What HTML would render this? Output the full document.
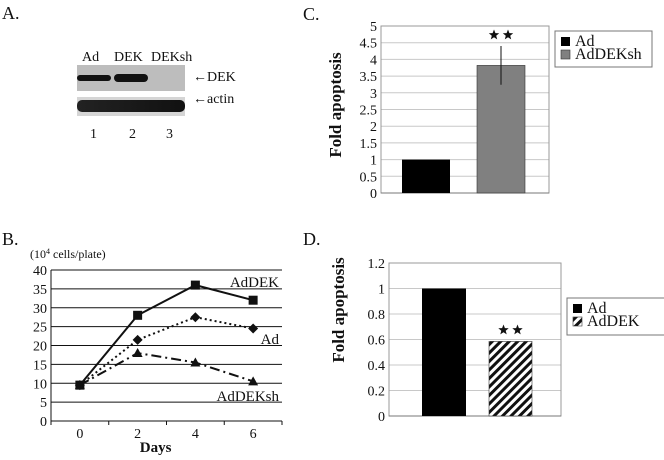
<!DOCTYPE html>
<html><head><meta charset="utf-8"><style>
body{margin:0;background:#fff;width:664px;height:455px;overflow:hidden;font-family:"Liberation Serif",serif;}
svg text{font-family:"Liberation Serif",serif;fill:#111;}
</style></head><body>
<svg id="fig" width="664" height="455" viewBox="0 0 664 455" xmlns="http://www.w3.org/2000/svg">
<defs>
<pattern id="hatch" width="6" height="6" patternUnits="userSpaceOnUse" patternTransform="rotate(45)">
<rect width="6" height="6" fill="#fff"/><rect width="3" height="6" fill="#111"/></pattern>
<linearGradient id="band" x1="0" x2="1"><stop offset="0" stop-color="#222"/><stop offset="1" stop-color="#111"/></linearGradient>
</defs>
<g>
<text x="2" y="19" font-size="18">A.</text>
<text x="82" y="61" font-size="14">Ad</text>
<text x="114" y="61" font-size="14">DEK</text>
<text x="151" y="61" font-size="14">DEKsh</text>
<rect x="77" y="65" width="108" height="26" fill="#bdbdbd"/>
<rect x="77" y="75" width="34" height="6" rx="3" fill="#111"/>
<rect x="114" y="74" width="34" height="8" rx="4" fill="#111"/>
<rect x="77" y="97" width="108" height="19" fill="#d5d5d5"/>
<rect x="77" y="100" width="108" height="12" rx="5" fill="url(#band)"/>
<text x="193" y="81" font-size="14">←DEK</text>
<text x="193" y="103" font-size="14">←actin</text>
<text x="90" y="138" font-size="14">1</text>
<text x="129" y="138" font-size="14">2</text>
<text x="166" y="138" font-size="14">3</text>
</g>
<text x="2" y="245" font-size="18">B.</text>
<text x="30" y="258" font-size="12">(10<tspan font-size="8" dy="-4">4</tspan><tspan dy="4"> cells/plate)</tspan></text>
<text x="303" y="20" font-size="18">C.</text>
<text x="303" y="245" font-size="18">D.</text>
<g id="gB"></g><g id="gC"></g><g id="gD"></g>
</svg>
<script>
const NS="http://www.w3.org/2000/svg";
function mk(p,t,a,txt){const e=document.createElementNS(NS,t);for(const k in a)e.setAttribute(k,a[k]);if(txt!==undefined)e.textContent=txt;p.appendChild(e);return e;}
// ---- Panel B data
const bDays=["0","2","4","6"];
const bAdDEK=[9.5,28,36,32];
const bAd=[9.5,21.5,27.5,24.5];
const bAdDEKsh=[9.5,18,15.5,10.5];
const bTicks=[0,5,10,15,20,25,30,35,40];
// ---- Panel C data
const cCats=["Ad","AdDEKsh"];
const cVals=[1,3.82];
const cErr=[0,0.58];
const cTicks=["0","0.5","1","1.5","2","2.5","3","3.5","4","4.5","5"];
// ---- Panel D data
const dCats=["Ad","AdDEK"];
const dVals=[1,0.585];
const dTicks=["0","0.2","0.4","0.6","0.8","1","1.2"];

function star(p,cx,cy,r,name){let pts=[];for(let i=0;i<10;i++){const a=-Math.PI/2+i*Math.PI/5;const rr=i%2?r*0.42:r;pts.push((cx+rr*Math.cos(a)).toFixed(1)+","+(cy+rr*Math.sin(a)).toFixed(1));}
const s=mk(p,"polygon",{points:pts.join(" "),fill:"#111"});

}

(function(){const g=document.getElementById("gB");
const L=51,R=282,T=270,B=421,max=40;
const y=v=>B-(v/max)*(B-T);const bw=(R-L)/bDays.length;const x=i=>L+bw*(i+0.5);
bTicks.forEach(t=>{if(t>0){const l=mk(g,"line",{x1:L,x2:R,y1:y(t),y2:y(t),stroke:"#111","stroke-width":1});

}
const tx=mk(g,"text",{x:L-4,y:y(t)+5,"font-size":14,"text-anchor":"end"},String(t));

});
const ax=mk(g,"path",{d:`M${L},${T}V${B}H${R}`,stroke:"#111",fill:"none"});


for(let i=0;i<=bDays.length;i++)mk(g,"line",{x1:L+bw*i,x2:L+bw*i,y1:B,y2:B+4,stroke:"#111"});
bDays.forEach((d,i)=>{const t=mk(g,"text",{x:x(i),y:B+17,"font-size":14,"text-anchor":"middle"},d);

});
const xt=mk(g,"text",{x:x(1)+18,y:452,"font-size":15,"font-weight":"bold","text-anchor":"middle"},"Days");


const series=[[bAdDEK,"none","sq","adDEK"],[bAd,"2,3","dia","ad"],[bAdDEKsh,"10,4,2,4","tri","adDEKsh"]];
series.forEach(([vals,dash,mark,nm])=>{
const pl=mk(g,"polyline",{points:vals.map((v,i)=>x(i)+","+y(v)).join(" "),fill:"none",stroke:"#111","stroke-width":2,"stroke-dasharray":dash});


vals.forEach((v,i)=>{let m;const cx=x(i),cy=y(v);
if(mark==="sq")m=mk(g,"rect",{x:cx-4.5,y:cy-4.5,width:9,height:9,fill:"#111"});
else if(mark==="dia")m=mk(g,"polygon",{points:`${cx},${cy-5} ${cx+5},${cy} ${cx},${cy+5} ${cx-5},${cy}`,fill:"#111"});
else m=mk(g,"polygon",{points:`${cx},${cy-5} ${cx+5},${cy+4} ${cx-5},${cy+4}`,fill:"#111"});

});});
[["AdDEK",287,"label-addek"],["Ad",344,"label-ad"],["AdDEKsh",401,"label-addeksh"]].forEach(([t,yy,n])=>{
const e=mk(g,"text",{x:279,y:yy,"font-size":15,"text-anchor":"end"},t);

});
})();

function barPanel(gid,cats,vals,ticks,max,L,R,T,B,bars,fills,legend,err,starY,titleX,titleY){
const g=document.getElementById(gid);const y=v=>B-(v/max)*(B-T);
ticks.forEach(t=>{const v=parseFloat(t);
if(v>0&&v<max){const l=mk(g,"line",{x1:L,x2:R,y1:y(v),y2:y(v),stroke:"#c8c8c8"});

}
const tx=mk(g,"text",{x:L-4,y:y(v)+5,"font-size":14,"text-anchor":"end"},t);

});
const fr=mk(g,"rect",{x:L,y:T,width:R-L,height:B-T,fill:"none",stroke:"#999"});


mk(g,"line",{x1:L,x2:R,y1:B,y2:B,stroke:"#777"});
vals.forEach((v,i)=>{const r=mk(g,"rect",{x:bars[i][0],y:y(v),width:bars[i][1]-bars[i][0],height:B-y(v),fill:fills[i],stroke:i?"#333":"none","stroke-width":0.6});


if(err[i]>0){const e=mk(g,"line",{x1:(bars[i][0]+bars[i][1])/2,x2:(bars[i][0]+bars[i][1])/2,y1:y(v-err[i]),y2:y(v+err[i]),stroke:"#111"});

}});
const sx=(bars[1][0]+bars[1][1])/2;const sy=starY;
star(g,sx-7,sy,5.5,'significance-star-1');star(g,sx+7,sy,5.5,'significance-star-2');
const tt=mk(g,"text",{x:titleX,y:titleY,"font-size":17,"font-weight":"bold","text-anchor":"middle",transform:`rotate(-90 ${titleX} ${titleY})`},"Fold apoptosis");


const [lx,ly,lw,lh]=legend;
const lb=mk(g,"rect",{x:lx,y:ly,width:lw,height:lh,fill:"#fff",stroke:"#777"});


cats.forEach((c,i)=>{const sw=mk(g,"rect",{x:lx+6,y:ly+6+i*13,width:9,height:9,fill:fills[i],stroke:i?"#333":"none","stroke-width":0.6});


const t=mk(g,"text",{x:lx+20,y:ly+15+i*13,"font-size":16},c);

});
}
barPanel("gC",cCats,cVals,cTicks,5,381,549,26,193,[[402,450],[477,525]],["#000","#808080"],[555,31,97,36],cErr,35,341,105);
barPanel("gD",dCats,dVals,dTicks,1.2,389,561,263,416,[[422,466],[489,532]],["#000","url(#hatch)"],[567,298,100,37],[0,0],330,344,310);
</script>
</body></html>
